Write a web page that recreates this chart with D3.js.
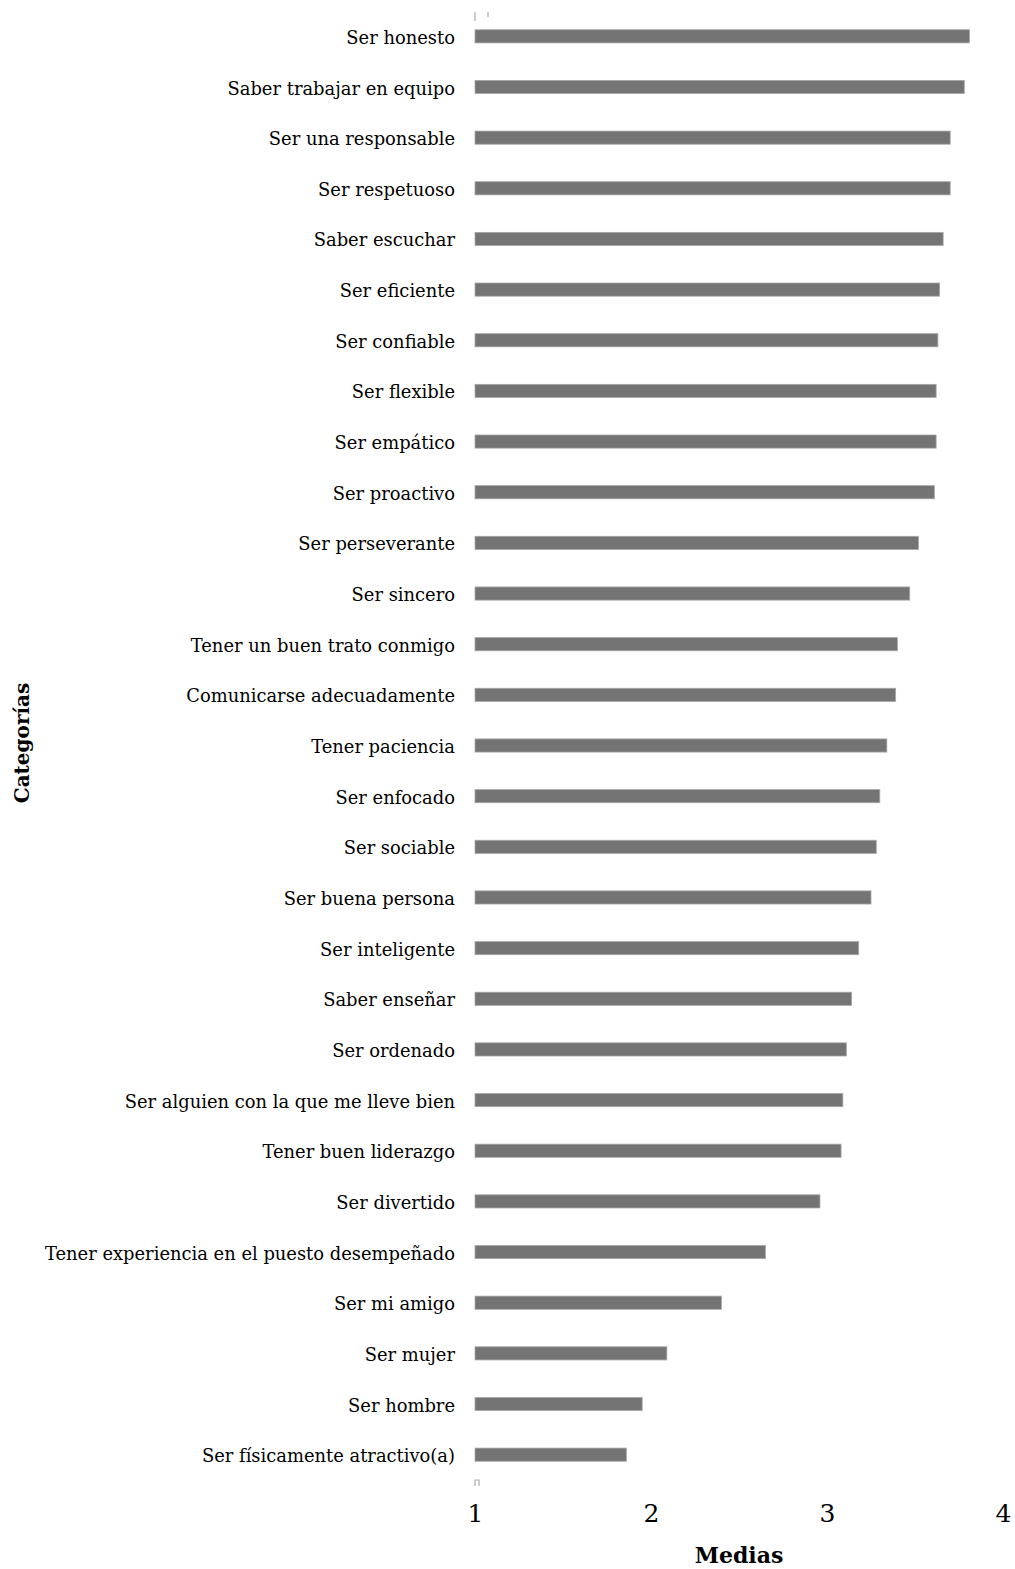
<!DOCTYPE html>
<html>
<head>
<meta charset="utf-8">
<script src="https://cdn.jsdelivr.net/npm/d3@7"></script>
<style>
  body { margin: 0; background: #fff; }
  text { font-family: "DejaVu Serif", "Liberation Serif", serif; fill: #000; }
</style>
</head>
<body>
<div id="chart"></div>
<script>
// categorías (de arriba hacia abajo) y sus medias
var categorias = [
  "Ser honesto", "Saber trabajar en equipo", "Ser una responsable", "Ser respetuoso",
  "Saber escuchar", "Ser eficiente", "Ser confiable", "Ser flexible", "Ser empático",
  "Ser proactivo", "Ser perseverante", "Ser sincero", "Tener un buen trato conmigo",
  "Comunicarse adecuadamente", "Tener paciencia", "Ser enfocado", "Ser sociable",
  "Ser buena persona", "Ser inteligente", "Saber enseñar", "Ser ordenado",
  "Ser alguien con la que me lleve bien", "Tener buen liderazgo", "Ser divertido",
  "Tener experiencia en el puesto desempeñado", "Ser mi amigo", "Ser mujer",
  "Ser hombre", "Ser físicamente atractivo(a)"
];
var medias = [
  3.81, 3.78, 3.70, 3.70, 3.66, 3.64, 3.63, 3.62, 3.62, 3.61,
  3.52, 3.47, 3.40, 3.39, 3.34, 3.30, 3.28, 3.25, 3.18, 3.14,
  3.11, 3.09, 3.08, 2.96, 2.65, 2.40, 2.09, 1.95, 1.86
];
var ticks = [1, 2, 3, 4];

var width = 1015, height = 1569;
var svg = d3.select("#chart").append("svg")
  .attr("width", width)
  .attr("height", height);

var x = d3.scaleLinear().domain([1, 4]).range([475, 1003]);
var y = d3.scaleBand().domain(categorias).range([11, 1480]).paddingInner(0.74).paddingOuter(0.37);

var datos = categorias.map(function(c, i) { return { cat: c, val: medias[i] }; });

// barras
svg.append("g").selectAll("rect")
  .data(datos)
  .enter()
  .append("rect")
  .attr("x", x(1))
  .attr("y", function(d) { return y(d.cat); })
  .attr("width", function(d) { return x(d.val) - x(1); })
  .attr("height", y.bandwidth())
  .attr("fill", "#747474")
  .attr("stroke", "#a8a8a8")
  .attr("stroke-width", 0.8);

// etiquetas de categorías
svg.append("g").selectAll("text")
  .data(datos)
  .enter()
  .append("text")
  .attr("x", 455)
  .attr("y", function(d) { return y(d.cat) + y.bandwidth() / 2; })
  .attr("dy", "0.42em")
  .attr("text-anchor", "end")
  .style("font-size", "17.9px")
  .text(function(d) { return d.cat; });

// eje x sin línea
var ejeX = svg.append("g")
  .attr("transform", "translate(0,1502)")
  .call(d3.axisBottom(x).tickValues(ticks).tickFormat(d3.format("d")).tickSize(0));
ejeX.select(".domain").remove();
ejeX.selectAll("text")
  .style("font-family", "'DejaVu Serif', serif")
  .style("font-size", "25px")
  .attr("dy", "0.71em")
  .attr("y", 2);

// pequeñas marcas residuales arriba y abajo
svg.append("g").attr("stroke", "#aaa").attr("stroke-width", 1.2).attr("fill", "none")
  .selectAll("path")
  .data([
    "M" + x(1) + ",12V21",
    "M" + (x(1) + 13) + ",12V17",
    "M" + x(1) + ",1486V1480H" + (x(1) + 4) + "V1486"
  ])
  .enter().append("path").attr("d", function(d) { return d; });

// títulos de ejes
svg.append("text")
  .attr("x", 739)
  .attr("y", 1563)
  .attr("text-anchor", "middle")
  .style("font-size", "22px")
  .style("font-weight", "bold")
  .text("Medias");

svg.append("text")
  .attr("transform", "translate(29,743) rotate(-90)")
  .attr("text-anchor", "middle")
  .style("font-size", "20px")
  .style("font-weight", "bold")
  .text("Categorías");
</script>
</body>
</html>
